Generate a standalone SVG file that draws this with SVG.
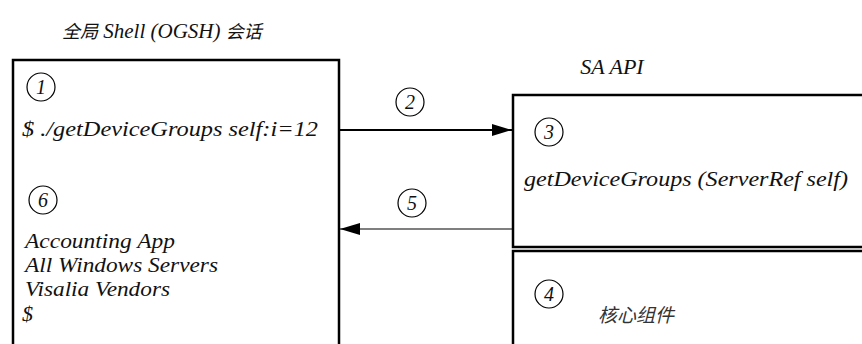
<svg xmlns="http://www.w3.org/2000/svg" width="862" height="344" viewBox="0 0 862 344">
<defs>
<marker id="ah" markerWidth="20" markerHeight="12" refX="20" refY="6" orient="auto" markerUnits="userSpaceOnUse">
<path d="M0,0 L20,6 L0,12 Z" fill="#000"/>
</marker>
</defs>
<rect width="862" height="344" fill="#fff"/>
<g id="ogsh">
<text x="62" y="38" style="font-family:'Liberation Serif',serif;font-style:italic;font-size:21px;fill:#111"><tspan style="font-family:'Noto Sans CJK SC',sans-serif;font-size:18px">全局</tspan> Shell (OGSH) <tspan style="font-family:'Noto Sans CJK SC',sans-serif;font-size:18px">会话</tspan></text>
<rect x="13" y="60" width="326" height="300" fill="#fff" stroke="#000" stroke-width="2.5"/>
<circle cx="41" cy="87" r="14" fill="none" stroke="#000" stroke-width="1.2"/>
<text x="41" y="94" text-anchor="middle" style="font-family:'Liberation Serif',serif;font-style:italic;font-size:20px;fill:#111">1</text>
<text x="22" y="136" textLength="296" lengthAdjust="spacingAndGlyphs" style="font-family:'Liberation Serif',serif;font-style:italic;font-size:22px;fill:#111">$ ./getDeviceGroups self:i=12</text>
<circle cx="43" cy="200" r="14" fill="none" stroke="#000" stroke-width="1.2"/>
<text x="43" y="207" text-anchor="middle" style="font-family:'Liberation Serif',serif;font-style:italic;font-size:20px;fill:#111">6</text>
<text x="25" y="248" textLength="150" lengthAdjust="spacingAndGlyphs" style="font-family:'Liberation Serif',serif;font-style:italic;font-size:22px;fill:#111">Accounting App</text>
<text x="25" y="272" textLength="193" lengthAdjust="spacingAndGlyphs" style="font-family:'Liberation Serif',serif;font-style:italic;font-size:22px;fill:#111">All Windows Servers</text>
<text x="25" y="296" textLength="145" lengthAdjust="spacingAndGlyphs" style="font-family:'Liberation Serif',serif;font-style:italic;font-size:22px;fill:#111">Visalia Vendors</text>
<text x="22" y="321" style="font-family:'Liberation Serif',serif;font-style:italic;font-size:22px;fill:#111">$</text>
</g>
<g id="saapi">
<text x="612" y="74" text-anchor="middle" style="font-family:'Liberation Serif',serif;font-style:italic;font-size:22px;fill:#111">SA API</text>
<rect x="513" y="95" width="360" height="152" fill="#fff" stroke="#000" stroke-width="2.5"/>
<circle cx="549" cy="132" r="14" fill="none" stroke="#000" stroke-width="1.2"/>
<text x="549" y="139" text-anchor="middle" style="font-family:'Liberation Serif',serif;font-style:italic;font-size:20px;fill:#111">3</text>
<text x="524" y="186" textLength="324" lengthAdjust="spacingAndGlyphs" style="font-family:'Liberation Serif',serif;font-style:italic;font-size:22px;fill:#111">getDeviceGroups (ServerRef self)</text>
</g>
<g id="core">
<rect x="513" y="251" width="360" height="110" fill="#fff" stroke="#000" stroke-width="2.5"/>
<circle cx="549" cy="294" r="14" fill="none" stroke="#000" stroke-width="1.2"/>
<text x="549" y="301" text-anchor="middle" style="font-family:'Liberation Serif',serif;font-style:italic;font-size:20px;fill:#111">4</text>
<text x="598" y="322" style="font-family:'Noto Sans CJK SC',sans-serif;font-style:italic;font-size:19px;fill:#333">核心组件</text>
</g>
<g id="connectors">
<line x1="339" y1="130" x2="512" y2="130" stroke="#000" stroke-width="2" marker-end="url(#ah)"/>
<circle cx="410" cy="102" r="14" fill="none" stroke="#000" stroke-width="1.2"/>
<text x="410" y="109" text-anchor="middle" style="font-family:'Liberation Serif',serif;font-style:italic;font-size:20px;fill:#111">2</text>
<line x1="512" y1="229" x2="340" y2="229" stroke="#000" stroke-width="1.2" marker-end="url(#ah)"/>
<circle cx="412" cy="203" r="14" fill="none" stroke="#000" stroke-width="1.2"/>
<text x="412" y="210" text-anchor="middle" style="font-family:'Liberation Serif',serif;font-style:italic;font-size:20px;fill:#111">5</text>
</g>
</svg>
